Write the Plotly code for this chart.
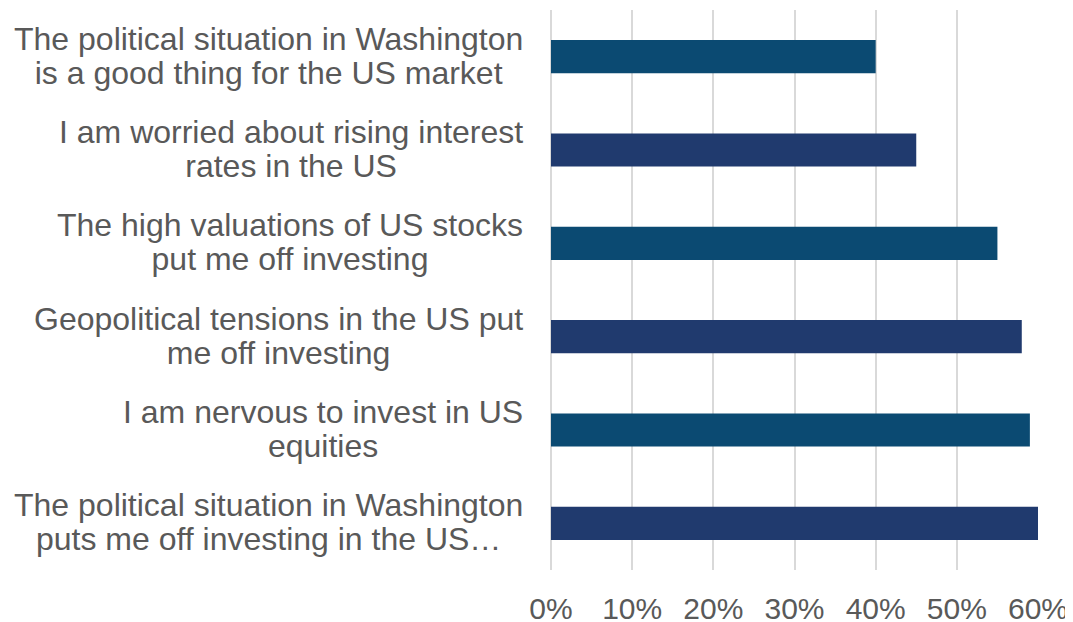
import plotly.graph_objects as go

# Data (top to bottom as shown)
categories_line1 = [
    "The political situation in Washington",
    "I am worried about rising interest",
    "The high valuations of US stocks",
    "Geopolitical tensions in the US put",
    "I am nervous to invest in US",
    "The political situation in Washington",
]
categories_line2 = [
    "is a good thing for the US market",
    "rates in the US",
    "put me off investing",
    "me off investing",
    "equities",
    "puts me off investing in the US…",
]
values = [0.40, 0.45, 0.55, 0.58, 0.59, 0.60]
bar_colors = ["#0B4A72", "#203A6E", "#0B4A72", "#203A6E", "#0B4A72", "#203A6E"]
tick_vals = [0, 0.1, 0.2, 0.3, 0.4, 0.5, 0.6]

cat_ids = [f"c{i}" for i in range(len(values))]

fig = go.Figure()
fig.add_trace(go.Bar(
    x=values,
    y=cat_ids,
    orientation="h",
    marker=dict(color=bar_colors, line=dict(width=0)),
    hoverinfo="skip",
))

TEXT_COLOR = "#595959"
FONT = "Liberation Sans, Arial, sans-serif"
LABEL_SIZE = 32
HIDE = '<span style="color:rgba(0,0,0,0)">{}</span>'

annotations = []
for cid, l1, l2 in zip(cat_ids, categories_line1, categories_line2):
    # Line 1 visible, line 2 hidden (keeps centered alignment of the block)
    annotations.append(dict(
        x=0, xref="paper", y=cid, yref="y",
        text=l1 + "<br>" + HIDE.format(l2),
        showarrow=False, xanchor="right", yanchor="middle", align="center",
        xshift=-26, yshift=-3,
        font=dict(family=FONT, size=LABEL_SIZE, color=TEXT_COLOR),
    ))
    # Line 2 visible, line 1 hidden
    annotations.append(dict(
        x=0, xref="paper", y=cid, yref="y",
        text=HIDE.format(l1) + "<br>" + l2,
        showarrow=False, xanchor="right", yanchor="middle", align="center",
        xshift=-26, yshift=5,
        font=dict(family=FONT, size=LABEL_SIZE, color=TEXT_COLOR),
    ))

fig.update_layout(
    width=1065, height=614,
    margin=dict(l=543, r=35, t=2, b=52, autoexpand=False),
    paper_bgcolor="white", plot_bgcolor="white",
    bargap=0.645,
    showlegend=False,
    annotations=annotations,
    xaxis=dict(
        range=[0, 0.6],
        tickvals=tick_vals,
        tickformat=".0%",
        automargin=False,
        showgrid=True, gridcolor="#D9D9D9", gridwidth=1.5,
        zeroline=True, zerolinecolor="#D9D9D9", zerolinewidth=1.5,
        showline=False,
        ticks="outside", ticklen=12, tickcolor="rgba(0,0,0,0)",
        tickfont=dict(family=FONT, size=30, color=TEXT_COLOR),
        fixedrange=True,
    ),
    yaxis=dict(
        categoryorder="array", categoryarray=cat_ids,
        autorange="reversed",
        automargin=False,
        showticklabels=False, showgrid=False, zeroline=False, showline=False,
        fixedrange=True,
    ),
)

fig.write_html("out.html")
